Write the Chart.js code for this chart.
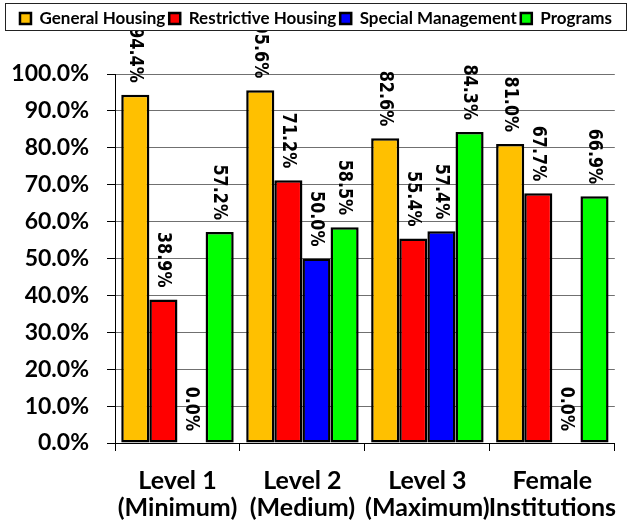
<!DOCTYPE html>
<html><head><meta charset="utf-8">
<script src="https://cdn.jsdelivr.net/npm/chart.js@4.4.0/dist/chart.umd.min.js"></script>
<style>html,body{margin:0;padding:0;background:#fff;}#wrap{width:632px;height:523px;}</style>
</head><body><div id="wrap"><canvas id="c" width="632" height="523"></canvas></div>
<script>
const categories = [['Level 1','(Minimum)'],['Level 2','(Medium)'],['Level 3','(Maximum)'],['Female','Institutions']];
const seriesNames = ['General Housing','Restrictive Housing','Special Management','Programs'];
const generalHousing = [94.4, 95.6, 82.6, 81.0];
const restrictiveHousing = [38.9, 71.2, 55.4, 67.7];
const specialManagement = [0.0, 50.0, 57.4, 0.0];
const programs = [57.2, 58.5, 84.3, 66.9];
const yTickValues = [0, 10, 20, 30, 40, 50, 60, 70, 80, 90, 100];
const seriesColors = ['#FFC000', '#FF0000', '#0000FF', '#00FF00'];

const seriesData = [generalHousing, restrictiveHousing, specialManagement, programs];

const legendFit = {
  id: 'legendFit',
  beforeInit(chart) {
    const orig = chart.legend.fit;
    chart.legend.fit = function () { orig.call(this); this.height = 68; };
  }
};

const barLabels = {
  id: 'barLabels',
  afterDatasetsDraw(chart) {
    const ctx = chart.ctx;
    ctx.save();
    ctx.beginPath();
    ctx.rect(0, 31, chart.width, chart.height);
    ctx.clip();
    ctx.fillStyle = '#000';
    ctx.font = 'bold 16px "DejaVu Sans"';
    chart.data.datasets.forEach((ds, i) => {
      const meta = chart.getDatasetMeta(i);
      meta.data.forEach((bar, j) => {
        const v = ds.data[j];
        ctx.save();
        ctx.translate(bar.x, bar.y - 12);
        ctx.rotate(Math.PI / 2);
        ctx.scale(1, 1.25);
        ctx.textAlign = 'right';
        ctx.textBaseline = 'middle';
        ctx.fillText(v.toFixed(1) + '%', 0, 0);
        ctx.restore();
      });
    });
    ctx.restore();
  }
};

const legendBorder = {
  id: 'legendBorder',
  afterDraw(chart) {
    const ctx = chart.ctx;
    const lg = chart.legend;
    ctx.save();
    ctx.strokeStyle = '#222';
    ctx.lineWidth = 1;
    ctx.strokeRect(lg.left + 5.5, lg.top - 2.5, lg.width - 11, 27);
    ctx.restore();
  }
};

new Chart(document.getElementById('c'), {
  type: 'bar',
  data: {
    labels: categories,
    datasets: seriesNames.map((name, i) => ({
      label: name,
      data: seriesData[i],
      backgroundColor: seriesColors[i],
      borderColor: '#000',
      borderWidth: 2.5,
      borderSkipped: false,
      categoryPercentage: 0.9,
      barPercentage: 1.0
    }))
  },
  options: {
    responsive: false,
    devicePixelRatio: 1,
    animation: false,
    layout: { padding: { top: 6, left: 0, right: 0, bottom: 0 } },
    plugins: {
      legend: {
        position: 'top',
        labels: {
          boxWidth: 11,
          boxHeight: 11,
          padding: 4,
          color: '#000',
          font: { family: 'Lato', weight: 'bold', size: 17 }
        }
      },
      tooltip: { enabled: false }
    },
    scales: {
      x: {
        offset: true,
        grid: { offset: true, drawOnChartArea: false, tickLength: 8, tickColor: '#000', tickWidth: 1 },
        border: { color: '#000', width: 1 },
        ticks: {
          color: '#000',
          padding: 16,
          maxRotation: 0,
          autoSkip: false,
          font: { family: 'Lato', weight: 'bold', size: 25, lineHeight: 1.1 }
        },
        afterFit(s) { s.height = 80; }
      },
      y: {
        min: 0,
        max: 100,
        afterBuildTicks(s) { s.ticks = yTickValues.map(v => ({ value: v })); },
        grid: { color: '#707070', tickColor: '#000', tickLength: 8, lineWidth: 1 },
        border: { color: '#000', width: 1 },
        ticks: {
          color: '#000',
          padding: 18,
          font: { family: 'Lato', weight: 'bold', size: 23 },
          callback: v => v.toFixed(1) + '%'
        },
        afterFit(s) { s.width = 115; }
      }
    }
  },
  plugins: [legendFit, barLabels, legendBorder]
});
</script>
</body></html>
